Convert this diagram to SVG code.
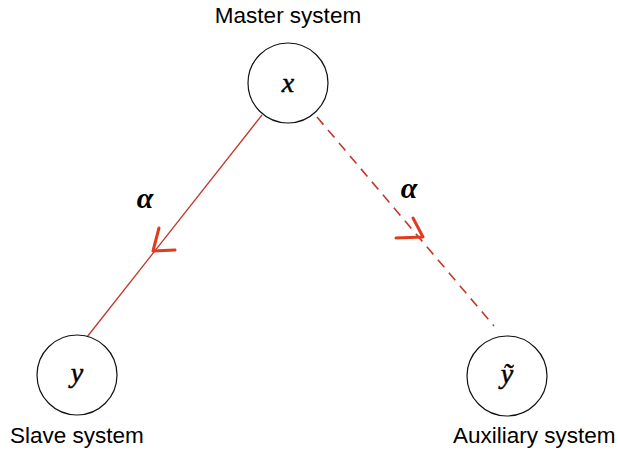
<svg xmlns="http://www.w3.org/2000/svg" width="618" height="454" viewBox="0 0 618 454">
  <style>
    .node { fill: #fff; stroke: #111; stroke-width: 1.2; }
    .var { font-family: "Liberation Serif", "DejaVu Serif", serif; font-style: italic; font-size: 28px; fill: #000; stroke: #000; stroke-width: 0.5; text-anchor: middle; }
    .lbl { font-family: "Liberation Sans", Arial, sans-serif; font-size: 22.5px; fill: #000; }
    .edge { stroke: #c0392b; stroke-width: 1.3; fill: none; }
    .dash { stroke-dasharray: 10 7; stroke-width: 1.6; }
    .head { stroke: #e03a20; stroke-width: 3; fill: none; stroke-linecap: round; stroke-linejoin: round; }
    .greek { font-family: "Liberation Serif", "DejaVu Serif", serif; font-style: italic; font-weight: bold; font-size: 30px; fill: #000; text-anchor: middle; }
  </style>
  <rect width="618" height="454" fill="#fff"/>
  <g id="connectors">
    <line class="edge" x1="262" y1="115" x2="87" y2="337"/>
    <polyline class="head" points="159,228 153,251 175,250"/>
    <text class="greek" x="145" y="208">α</text>
    <line class="edge dash" x1="317" y1="117" x2="494" y2="326"/>
    <polyline class="head" points="413,218 423,237 396,238"/>
    <text class="greek" x="409" y="198">α</text>
  </g>
  <g id="master">
    <circle class="node" cx="288" cy="83" r="40"/>
    <text class="var" x="288" y="92">x</text>
    <text class="lbl" x="288" y="23" text-anchor="middle">Master system</text>
  </g>
  <g id="slave">
    <circle class="node" cx="77" cy="375" r="40"/>
    <text class="var" x="77" y="382">y</text>
    <text class="lbl" x="10" y="443">Slave system</text>
  </g>
  <g id="auxiliary">
    <circle class="node" cx="507" cy="376" r="40"/>
    <text class="var" x="507" y="383">ỹ</text>
    <text class="lbl" x="453" y="443">Auxiliary system</text>
  </g>
</svg>
